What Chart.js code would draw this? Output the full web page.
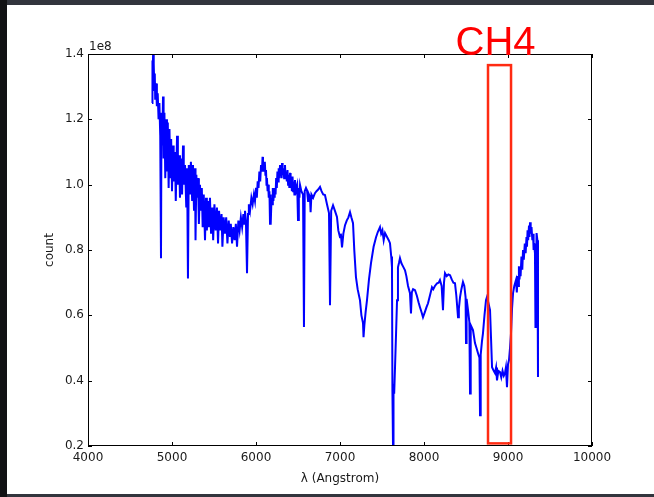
<!DOCTYPE html>
<html>
<head>
<meta charset="utf-8">
<script src="https://cdn.jsdelivr.net/npm/chart.js@4.4.1/dist/chart.umd.min.js"></script>
<style>
html, body { margin: 0; padding: 0; background: #32353d; }
#left { position: absolute; left: 0; top: 0; width: 7px; height: 497px; background: #111214; }
#paper { position: absolute; left: 7px; top: 5px; width: 647px; height: 489px; background: #fff; }
#wrap { position: absolute; left: 0; top: 0; width: 654px; height: 497px; }
</style>
</head>
<body>
<div id="left"></div>
<div id="paper"></div>
<div id="wrap"><canvas id="spec" width="654" height="497"></canvas></div>
<script>
// spectrum: wavelength (Angstrom) and count (x 1e8)
const wavelength = [
    // blue end, very noisy
    4762, 4765, 4770, 4775, 4780, 4785, 4790, 4795, 4800, 4810,
    4820, 4830, 4840, 4850, 4860, 4869, 4875, 4885, 4893, 4900,
    4910, 4920, 4930, 4940, 4950, 4960, 4970, 4980, 4990, 5000,
    5012, 5020, 5035, 5045, 5060, 5070, 5085, 5095, 5110, 5120,
    5131, 5140, 5155, 5170, 5180, 5190, 5200, 5214, 5225, 5240,
    5250, 5262, 5274, 5280, 5290, 5300, 5310, 5320, 5333, 5345,
    5355, 5365, 5378, 5393, 5405, 5415, 5430, 5440, 5452, 5465,
    5480, 5490, 5505, 5520, 5535, 5548, 5560, 5575, 5590, 5600,
    5615, 5630, 5645, 5660, 5675, 5690, 5700, 5715, 5730, 5745,
    5760, 5774, 5790, 5805, 5820, 5835, 5850, 5860, 5869, 5880,
    5893, 5905, 5915, 5929, 5945, 5960, 5975, 5988,
    // 6000 - 6524
    6000, 6010, 6020, 6030, 6040, 6050, 6060, 6071, 6078, 6083,
    6090, 6095, 6105, 6112, 6119, 6125, 6130, 6138, 6145, 6152,
    6160, 6167, 6172, 6178, 6185, 6192, 6200, 6207, 6215, 6220,
    6226, 6233, 6240, 6248, 6255, 6262, 6270, 6278, 6286, 6293,
    6300, 6305, 6310, 6317, 6325, 6335, 6345, 6352, 6360, 6367,
    6375, 6382, 6390, 6397, 6405, 6412, 6420, 6427, 6435, 6442,
    6450, 6457, 6464, 6472, 6480, 6490, 6500, 6510, 6517, 6524,
    // 6540 - 9095
    6540, 6560, 6571, 6580, 6595, 6607, 6620, 6630, 6643, 6650,
    6660, 6680, 6702, 6720, 6740, 6762, 6780, 6800, 6821, 6845,
    6869, 6881, 6895, 6917, 6940, 6964, 6980, 7000, 7010, 7024,
    7040, 7060, 7080, 7100, 7119, 7135, 7155, 7170, 7190, 7210,
    7238, 7255, 7274, 7280, 7290, 7305, 7321, 7345, 7369, 7400,
    7429, 7450, 7476, 7490, 7505, 7520, 7536, 7560, 7580, 7595,
    7610, 7619, 7624, 7631, 7637, 7645, 7655, 7668, 7679, 7690,
    7702, 7714, 7730, 7750, 7774, 7790, 7810, 7833, 7845, 7855,
    7870, 7893, 7915, 7935, 7952, 7970, 7988, 8010, 8030, 8048,
    8070, 8095, 8110, 8130, 8155, 8175, 8190, 8210, 8226, 8238,
    8250, 8270, 8290, 8310, 8330, 8350, 8369, 8385, 8405, 8415,
    8429, 8445, 8464, 8480, 8495, 8500, 8507, 8524, 8540, 8548,
    8556, 8583, 8607, 8625, 8643, 8660, 8667, 8675, 8690, 8702,
    8720, 8738, 8750, 8765, 8786, 8798, 8810, 8830, 8845, 8858,
    8869, 8885, 8905, 8920, 8935, 8950, 8964, 8975, 8988, 9000,
    9012, 9024, 9036, 9048, 9060, 9075, 9095,
    // red end
    9105, 9115, 9122, 9130, 9137, 9143, 9150, 9160, 9170, 9179,
    9188, 9200, 9210, 9220, 9226, 9233, 9240, 9250, 9256, 9262,
    9270, 9280, 9290, 9298, 9305, 9310, 9321, 9327, 9333, 9340,
    9350, 9357
];
const counts = [
    1.25, 1.38, 1.30, 1.40, 1.32, 1.37, 1.29, 1.34, 1.26, 1.31,
    1.24, 1.28, 1.20, 1.25, 1.15, 0.775, 1.22, 1.12, 1.27, 1.08,
    1.22, 1.02, 1.20, 1.04, 1.19, 0.99, 1.17, 1.02, 1.14, 0.98,
    1.12, 1.01, 1.10, 0.95, 1.15, 1.00, 1.09, 0.96, 1.08, 0.97,
    1.12, 1.00, 1.06, 0.93, 1.05, 0.713, 1.06, 0.97, 1.07, 0.95,
    1.06, 0.92, 1.05, 0.83, 1.03, 0.96, 1.02, 0.88, 1.00, 0.92,
    0.99, 0.87, 0.97, 0.83, 0.96, 0.86, 0.95, 0.87, 0.96, 0.85,
    0.93, 0.83, 0.94, 0.86, 0.93, 0.82, 0.92, 0.86, 0.91, 0.81,
    0.90, 0.85, 0.90, 0.82, 0.89, 0.84, 0.88, 0.82, 0.87, 0.83,
    0.88, 0.81, 0.89, 0.86, 0.90, 0.87, 0.91, 0.88, 0.92, 0.89,
    0.729, 0.91, 0.94, 0.92, 0.96, 0.94, 0.97, 0.95,
    // 6000 - 6524
    0.99, 0.96, 1.01, 0.99, 1.04, 1.01, 1.06, 1.04, 1.085, 1.05,
    1.07, 1.04, 1.07, 1.03, 1.045, 1.00, 1.02, 0.98, 1.00, 0.96,
    0.98, 0.88, 0.97, 0.88, 0.96, 0.94, 0.99, 0.95, 0.98, 0.96,
    0.99, 0.97, 1.02, 0.99, 1.04, 1.01, 1.05, 1.02, 1.06, 1.03,
    1.05, 1.02, 1.066, 1.03, 1.05, 1.02, 1.06, 1.02, 1.04, 1.01,
    1.045, 1.00, 1.03, 0.99, 1.036, 0.99, 1.02, 0.98, 1.025, 0.98,
    1.01, 0.97, 1.014, 0.97, 0.99, 1.00, 0.892, 0.99, 0.96, 0.999,
    // 6540 - 9095
    0.98, 0.97, 0.564, 0.98, 0.99, 0.983, 0.95, 0.97, 0.962, 0.916,
    0.97, 0.96, 0.974, 0.98, 0.985, 0.993, 0.98, 0.97, 0.968, 0.94,
    0.913, 0.631, 0.92, 0.937, 0.92, 0.901, 0.86, 0.839, 0.85, 0.808,
    0.85, 0.876, 0.89, 0.90, 0.916, 0.90, 0.882, 0.80, 0.717, 0.68,
    0.646, 0.60, 0.576, 0.533, 0.57, 0.61, 0.646, 0.71, 0.760, 0.81,
    0.839, 0.855, 0.870, 0.85, 0.86, 0.83, 0.852, 0.84, 0.83, 0.821,
    0.78, 0.747, 0.37, 0.202, 0.39, 0.36, 0.441, 0.55, 0.646, 0.747,
    0.76, 0.775, 0.76, 0.75, 0.738, 0.72, 0.69, 0.668, 0.606, 0.67,
    0.68, 0.677, 0.66, 0.64, 0.625, 0.61, 0.594, 0.61, 0.625, 0.637,
    0.66, 0.686, 0.68, 0.69, 0.698, 0.70, 0.708, 0.69, 0.616, 0.70,
    0.729, 0.72, 0.725, 0.723, 0.71, 0.70, 0.698, 0.66, 0.594, 0.62,
    0.656, 0.68, 0.702, 0.69, 0.656, 0.515, 0.65, 0.616, 0.58, 0.361,
    0.57, 0.555, 0.515, 0.50, 0.484, 0.47, 0.294, 0.48, 0.52, 0.545,
    0.60, 0.646, 0.656, 0.64, 0.616, 0.53, 0.441, 0.43, 0.423, 0.44,
    0.401, 0.43, 0.426, 0.41, 0.43, 0.415, 0.423, 0.44, 0.380, 0.45,
    0.463, 0.50, 0.545, 0.62, 0.668, 0.69, 0.708,
    // red end
    0.67, 0.72, 0.69, 0.75, 0.71, 0.738, 0.72, 0.78, 0.74, 0.800,
    0.77, 0.82, 0.79, 0.84, 0.81, 0.86, 0.83, 0.875, 0.84, 0.885,
    0.85, 0.87, 0.83, 0.85, 0.80, 0.82, 0.790, 0.564, 0.70, 0.852,
    0.83, 0.411
];

// CH4 band marked on the plot
const boxLabel = 'CH4';
const boxLambda = [8762, 9036];
const boxCount = [0.208, 1.366];

const tickFont = { family: 'DejaVu Sans', size: 12 };
const ink = '#1a1a1a';

// matplotlib style frame: inward ticks on all four sides, offset text, CH4 box
const framePlugin = {
    id: 'frame',
    afterDraw(chart) {
        const { ctx, chartArea: a, scales: { x, y } } = chart;
        ctx.save();

        ctx.strokeStyle = '#000';
        ctx.lineWidth = 1;
        ctx.strokeRect(a.left + 0.5, a.top + 0.5, a.right - a.left - 1, a.bottom - a.top - 1);

        ctx.beginPath();
        x.ticks.forEach(t => {
            const px = Math.round(x.getPixelForValue(t.value)) + 0.5;
            ctx.moveTo(px, a.bottom); ctx.lineTo(px, a.bottom - 4);
            ctx.moveTo(px, a.top); ctx.lineTo(px, a.top + 4);
        });
        y.ticks.forEach(t => {
            const py = Math.round(y.getPixelForValue(t.value)) + 0.5;
            ctx.moveTo(a.left, py); ctx.lineTo(a.left + 4, py);
            ctx.moveTo(a.right, py); ctx.lineTo(a.right - 4, py);
        });
        ctx.stroke();

        ctx.fillStyle = ink;
        ctx.font = '12px "DejaVu Sans"';
        ctx.textAlign = 'left';
        ctx.textBaseline = 'alphabetic';
        ctx.fillText('1e8', a.left + 1, a.top - 4);

        const bx0 = x.getPixelForValue(boxLambda[0]);
        const bx1 = x.getPixelForValue(boxLambda[1]);
        const by0 = y.getPixelForValue(boxCount[1]);
        const by1 = y.getPixelForValue(boxCount[0]);
        ctx.strokeStyle = '#ff2b12';
        ctx.lineWidth = 2.5;
        ctx.strokeRect(bx0, by0, bx1 - bx0, by1 - by0);

        ctx.fillStyle = '#ff0000';
        ctx.font = '40px "Liberation Sans"';
        ctx.textAlign = 'center';
        ctx.fillText(boxLabel, (bx0 + bx1) / 2 - 4, by0 - 10);
        ctx.restore();
    }
};

new Chart(document.getElementById('spec'), {
    type: 'line',
    plugins: [framePlugin],
    data: {
        datasets: [{
            data: wavelength.map((w, i) => ({ x: w, y: counts[i] })),
            borderColor: '#0000ff',
            borderWidth: 2,
            pointRadius: 0,
            tension: 0,
            fill: false
        }]
    },
    options: {
        responsive: false,
        animation: false,
        layout: { padding: { left: 0, top: 54, right: 62, bottom: 0 } },
        plugins: {
            legend: { display: false },
            tooltip: { enabled: false }
        },
        scales: {
            x: {
                type: 'linear',
                min: 4000,
                max: 10000,
                grid: { display: false, drawTicks: false },
                border: { display: false },
                ticks: {
                    stepSize: 1000, padding: 5, color: ink, font: tickFont, maxRotation: 0, autoSkip: false,
                    callback: v => String(v)
                },
                title: { display: true, text: 'λ (Angstrom)', color: ink, font: tickFont, padding: { top: 0, bottom: 11 } },
                afterFit: s => { s.height = 51; }
            },
            y: {
                min: 0.2,
                max: 1.4,
                grid: { display: false, drawTicks: false },
                border: { display: false },
                ticks: {
                    stepSize: 0.2, padding: 4, color: ink, font: tickFont, autoSkip: false,
                    callback: v => v.toFixed(1)
                },
                title: { display: true, text: 'count', color: ink, font: tickFont, padding: { top: 43, bottom: 0 } },
                afterFit: s => { s.width = 88; }
            }
        }
    }
});
</script>
</body>
</html>
